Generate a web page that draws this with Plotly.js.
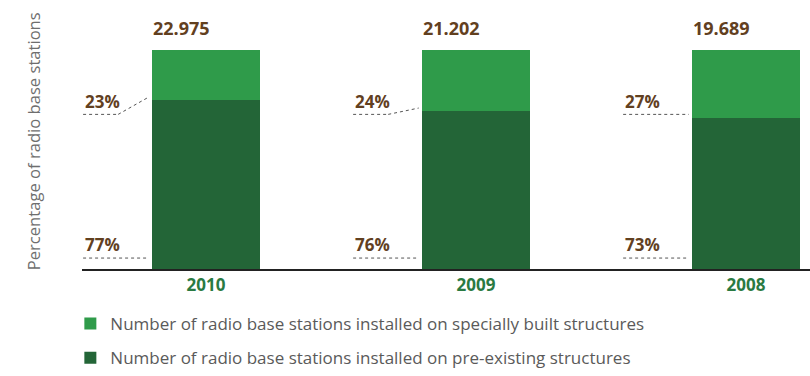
<!DOCTYPE html>
<html>
<head>
<meta charset="utf-8">
<script src="https://cdn.plot.ly/plotly-3.0.1.min.js"></script>
<style>html,body{margin:0;padding:0;background:#fff;}#chart{width:810px;height:376px;}</style>
</head>
<body>
<div id="chart"></div>
<script>
// ---- data ----
var years = ['2010', '2009', '2008'];
var totalStations = [22975, 21202, 19689];
// share of bar height as drawn (percent)
var preExistingShare = [77, 72, 69];
var speciallyBuiltShare = [23, 28, 31];
// percentages printed on the chart
var preExistingLabel = ['77%', '76%', '73%'];
var speciallyBuiltLabel = ['23%', '24%', '27%'];
var seriesNames = [
  'Number of radio base stations installed on specially built structures',
  'Number of radio base stations installed on pre-existing structures'
];

var colLight = '#2f9b4a', colDark = '#236537';
var brown = '#62401f', gray = '#5a5a5a', green = '#2a7a42';
var FONT = '"Open Sans", "DejaVu Sans", sans-serif';
var BAR_W = 0.4;

var traces = [
  {type: 'bar', x: [0, 1, 2], y: preExistingShare, name: seriesNames[1], legendgroup: 'pre', legendrank: 2,
   marker: {color: colDark, line: {width: 0}}, width: BAR_W, hoverinfo: 'skip'},
  {type: 'bar', x: [0, 1, 2], y: speciallyBuiltShare, name: seriesNames[0], legendgroup: 'spec', legendrank: 1,
   marker: {color: colLight, line: {width: 0}}, width: BAR_W, hoverinfo: 'skip'}
];

var annotations = [], shapes = [];
function fmt(n) { return (n / 1000).toFixed(3); }
var LABEL_Y_TOP = 76.7, LINE_Y_TOP = 70.6, LABEL_Y_BOT = 11, LINE_Y_BOT = 5;
years.forEach(function (yr, i) {
  var left = i - BAR_W / 2;
  var start = i - 0.455, knee = i - 0.325, end = left - 0.012;
  var total = preExistingShare[i] + speciallyBuiltShare[i];
  annotations.push({x: left - 0.005, y: total + 10, xref: 'x', yref: 'y', text: '<b>' + fmt(totalStations[i]) + '</b>',
    showarrow: false, xanchor: 'left', yanchor: 'middle', font: {family: FONT, size: 18, color: brown}});
  annotations.push({x: start, y: LABEL_Y_TOP, xref: 'x', yref: 'y', text: '<b>' + speciallyBuiltLabel[i] + '</b>',
    showarrow: false, xanchor: 'left', yanchor: 'middle', font: {family: FONT, size: 17, color: brown}});
  annotations.push({x: start, y: LABEL_Y_BOT, xref: 'x', yref: 'y', text: '<b>' + preExistingLabel[i] + '</b>',
    showarrow: false, xanchor: 'left', yanchor: 'middle', font: {family: FONT, size: 17, color: brown}});
  var dl = {color: '#555', width: 1, dash: 'dot'};
  shapes.push({type: 'line', xref: 'x', yref: 'y', x0: start, x1: knee, y0: LINE_Y_TOP, y1: LINE_Y_TOP, line: dl});
  shapes.push({type: 'line', xref: 'x', yref: 'y', x0: knee, x1: end, y0: LINE_Y_TOP,
    y1: Math.max(LINE_Y_TOP, preExistingShare[i] + 1.5), line: dl});
  shapes.push({type: 'line', xref: 'x', yref: 'y', x0: start, x1: end, y0: LINE_Y_BOT, y1: LINE_Y_BOT, line: dl});
});
annotations.push({xref: 'paper', yref: 'paper', x: -0.067, y: 0.514, text: 'Percentage of radio base stations',
  textangle: -90, showarrow: false, xanchor: 'center', yanchor: 'middle', font: {family: FONT, size: 16.6, color: '#6e6e6e'}});

var layout = {
  width: 810, height: 376,
  margin: {l: 82, r: 0, t: 20, b: 107},
  paper_bgcolor: '#fff', plot_bgcolor: '#fff',
  barmode: 'stack',
  showlegend: true,
  legend: {orientation: 'v', x: -0.016, y: -0.15, xanchor: 'left', yanchor: 'top', traceorder: 'grouped',
    tracegroupgap: 9, font: {family: FONT, size: 17, color: gray}, bgcolor: 'rgba(0,0,0,0)'},
  xaxis: {range: [-0.459, 2.237], tickmode: 'array', tickvals: [0, 1, 2], ticktext: years.map(function (y) { return '<b>' + y + '</b>'; }),
    showline: true, linecolor: '#222', linewidth: 1.5, ticks: '', showgrid: false, zeroline: false,
    tickfont: {family: FONT, size: 17, color: green}, fixedrange: true},
  yaxis: {range: [0, 113.7], showticklabels: false, showgrid: false, zeroline: false, showline: false, ticks: '', fixedrange: true},
  annotations: annotations,
  shapes: shapes
};
Plotly.newPlot('chart', traces, layout, {displayModeBar: false, staticPlot: true});
</script>
</body>
</html>
